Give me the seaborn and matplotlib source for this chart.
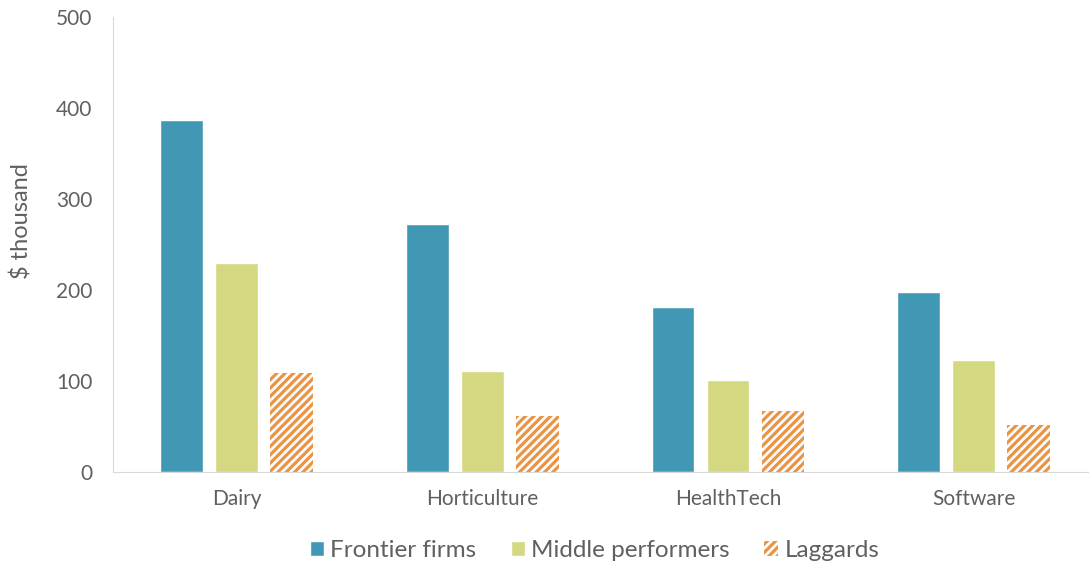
import pandas as pd
import matplotlib.pyplot as plt
import seaborn as sns
from matplotlib.patches import Patch

sectors = ['Dairy', 'Horticulture', 'HealthTech', 'Software']
groups = ['Frontier firms', 'Middle performers', 'Laggards']
frontier = [387, 273, 181, 198]
middle = [230, 111, 101, 123]
laggards = [109, 62, 67, 52]

colores = {'Frontier firms': '#4198b5', 'Middle performers': '#d4d880', 'Laggards': '#ea9445'}

df = pd.DataFrame({
    'sector': sectors * 3,
    'grupo': [g for g in groups for _ in sectors],
    'valor': frontier + middle + laggards,
})

sns.set_style('white')
plt.rcParams['font.family'] = ['Lato', 'DejaVu Sans']
plt.rcParams['hatch.linewidth'] = 2.3

fig = plt.figure(figsize=(10.89, 5.69), dpi=100)
ax = fig.add_axes([0.104, 0.17, 0.896, 0.80])

sns.barplot(data=df, x='sector', y='valor', hue='grupo', order=sectors, hue_order=groups,
            palette=colores, width=0.672, gap=0.22, ax=ax, legend=False, saturation=1)

# rayas para los rezagados
for bar in ax.containers[2]:
    bar.set_facecolor('white')
    bar.set_edgecolor(colores['Laggards'])
    bar.set_hatch('////')
    bar.set_linewidth(0)

ax.set_ylim(0, 500)
ax.set_yticks([0, 100, 200, 300, 400, 500])
ax.set_xlim(-0.503, 3.47)
ax.set_xlabel('')
ax.set_ylabel('$ thousand', fontsize=17, color='#606060')
ax.yaxis.set_label_coords(-0.083, 0.552)
ax.tick_params(axis='both', length=0, labelsize=15, labelcolor='#606060')
ax.tick_params(axis='y', pad=15)
ax.tick_params(axis='x', pad=12)

for lado in ['top', 'right']:
    ax.spines[lado].set_visible(False)
ax.spines['left'].set_color('#d9d9d9')
ax.spines['bottom'].set_color('#d9d9d9')

handles = [
    Patch(facecolor=colores['Frontier firms'], label='Frontier firms'),
    Patch(facecolor=colores['Middle performers'], label='Middle performers'),
    Patch(facecolor='white', edgecolor=colores['Laggards'], hatch='////', linewidth=0, label='Laggards'),
]
leg = fig.legend(handles=handles, loc='center', bbox_to_anchor=(0.546, 0.032), ncol=3, frameon=False,
                 fontsize=17.5, handlelength=0.6, handleheight=0.6, handletextpad=0.25, columnspacing=1.4)
for t in leg.get_texts():
    t.set_color('#606060')

plt.savefig('out.png', dpi=100)
